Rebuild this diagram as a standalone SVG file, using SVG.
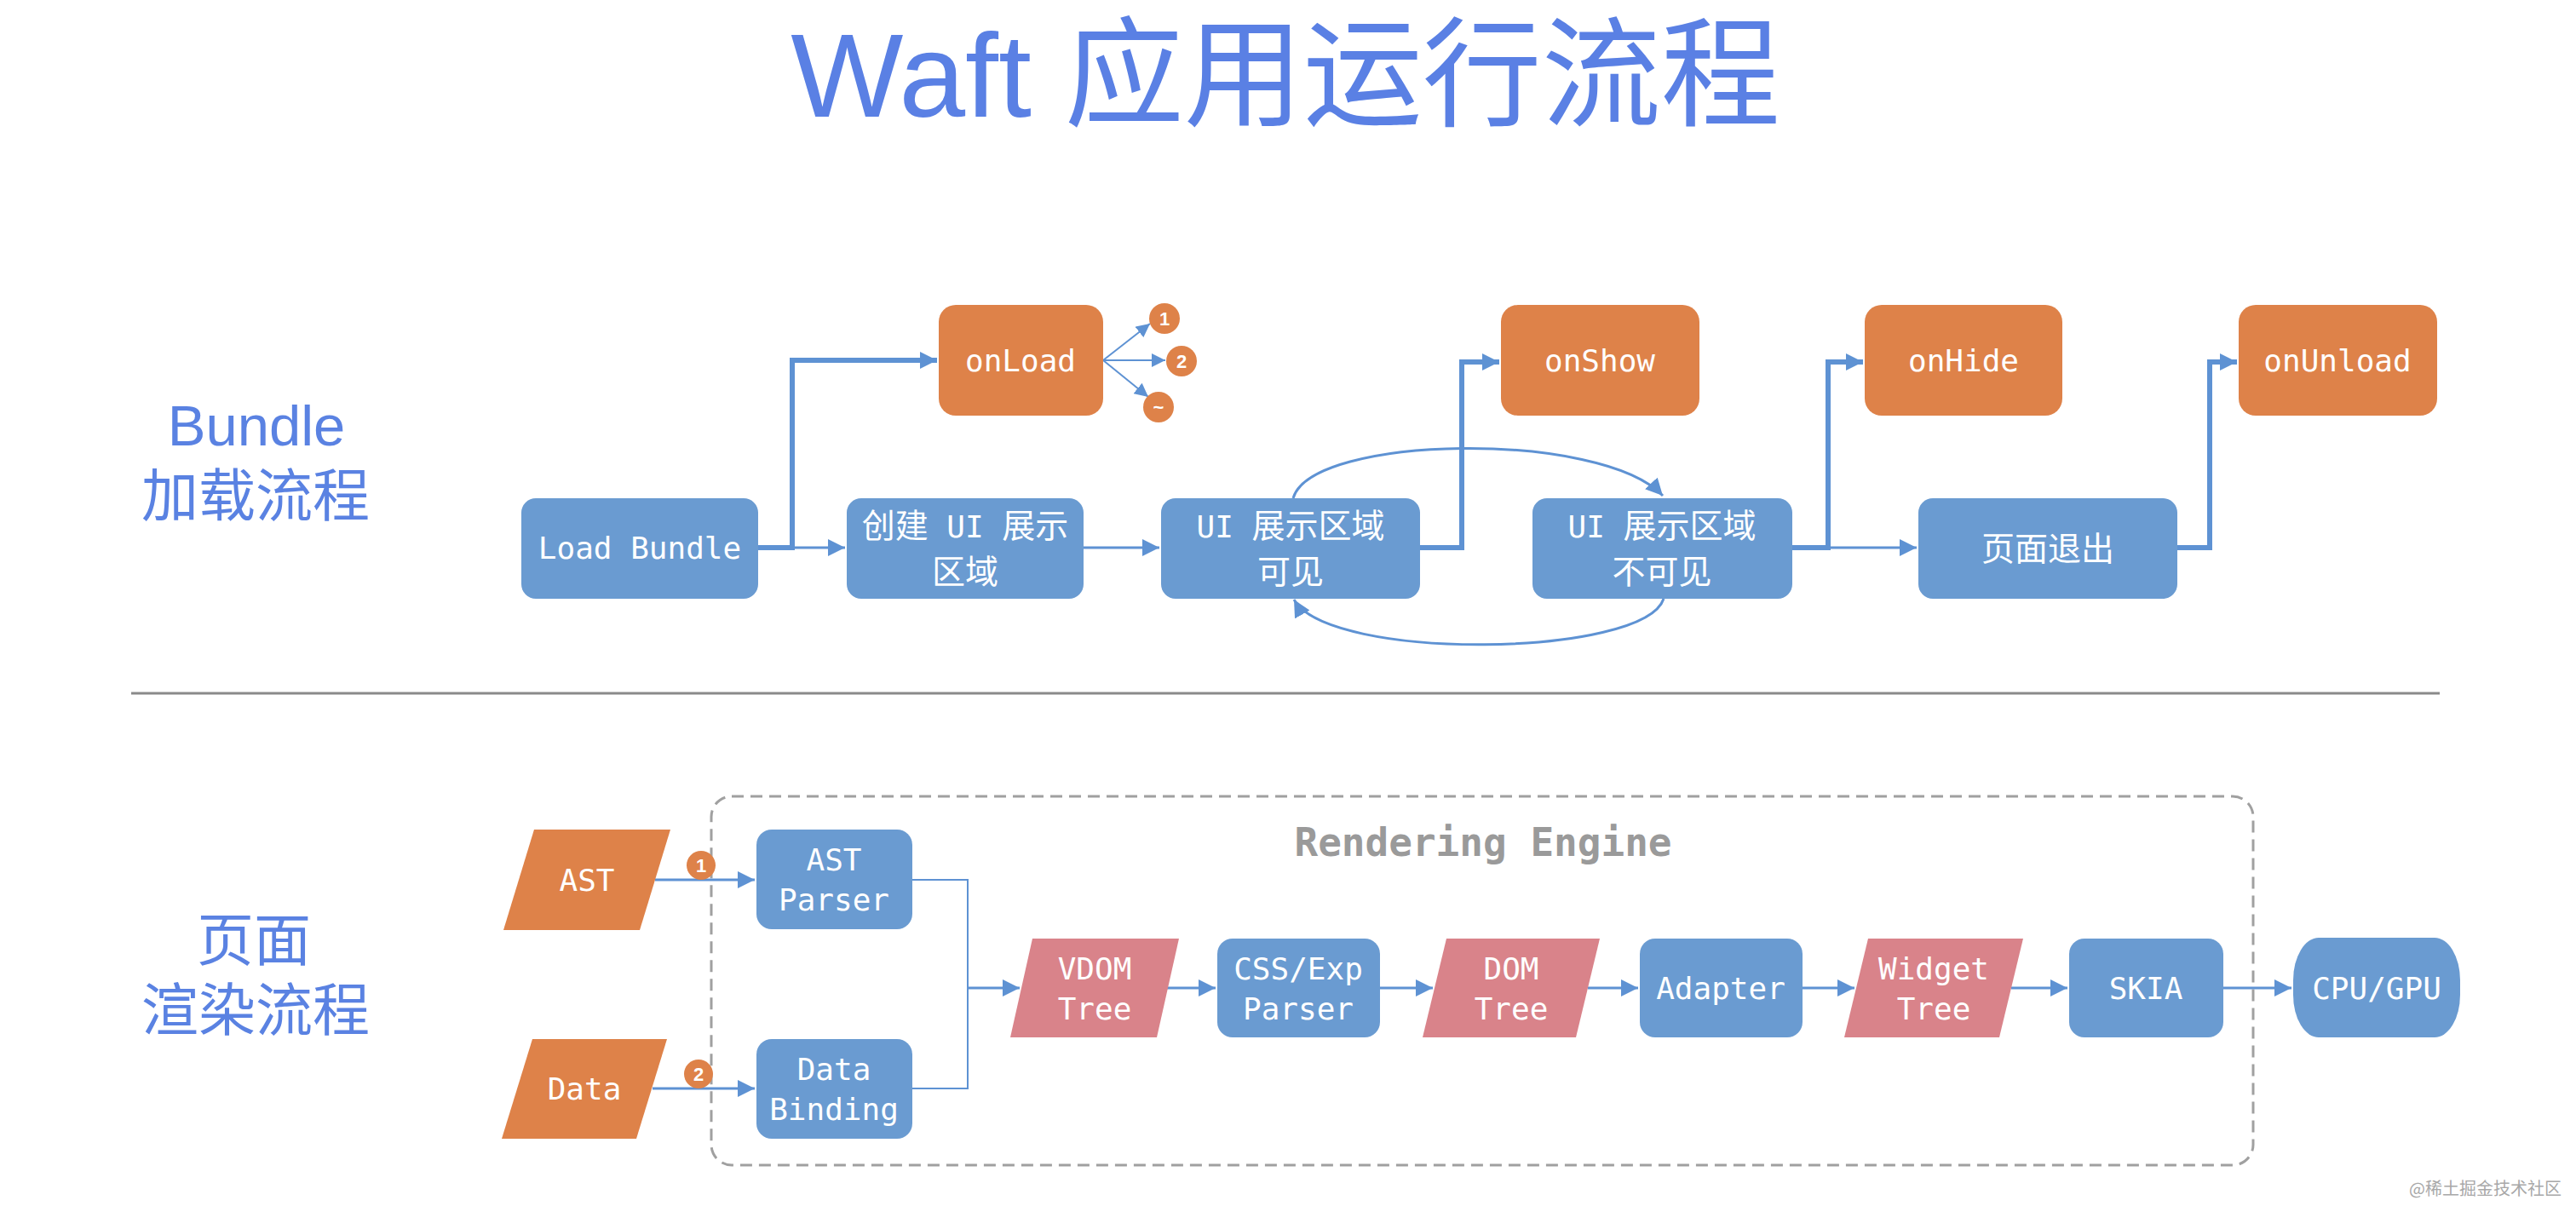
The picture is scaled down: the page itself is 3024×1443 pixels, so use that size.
<svg xmlns="http://www.w3.org/2000/svg" width="3024" height="1443" viewBox="0 0 3024 1443">
<style>
.title{font-family:"Liberation Sans","Noto Sans CJK SC",sans-serif;font-size:140px;fill:#5A80E4;text-anchor:middle}
.sec{font-family:"Liberation Sans","Noto Sans CJK SC",sans-serif;font-size:67px;fill:#5A82E2;text-anchor:middle}
.blue{fill:#6A9BD1}
.orange{fill:#DE8249}
.pink{fill:#D9838A}
.t{font-family:"DejaVu Sans Mono","Noto Sans CJK SC",monospace;font-size:36px;fill:#FFFFFF;text-anchor:middle}
.cjk{font-family:"Noto Sans CJK SC",sans-serif;font-size:39px}
.num{font-family:"Liberation Sans","Noto Sans",sans-serif;font-size:22px;font-weight:bold;fill:#FFFFFF;text-anchor:middle}
.thick{fill:none;stroke:#5E92D3;stroke-width:6}
.thin{fill:none;stroke:#5E92D3;stroke-width:3}
.hair{fill:none;stroke:#5E92D3;stroke-width:2}
</style>
<defs>
<marker id="ah" viewBox="0 0 10 10" refX="10" refY="5" markerWidth="20" markerHeight="20" markerUnits="userSpaceOnUse" orient="auto">
<path d="M0,0 L10,5 L0,10 z" fill="#5E92D3"/>
</marker>
<marker id="ahs" viewBox="0 0 10 10" refX="10" refY="5" markerWidth="16" markerHeight="16" markerUnits="userSpaceOnUse" orient="auto">
<path d="M0,0 L10,5 L0,10 z" fill="#5E92D3"/>
</marker>
</defs>

<rect width="3024" height="1443" fill="#FFFFFF"/>

<text class="title" x="1509" y="137">Waft 应用运行流程</text>

<text class="sec" x="301" y="523">Bundle</text>
<text class="sec" x="300" y="606">加载流程</text>
<text class="sec" x="298" y="1128">页面</text>
<text class="sec" x="300" y="1210">渲染流程</text>

<line x1="154" y1="814" x2="2864" y2="814" stroke="#8A8A8A" stroke-width="3"/>

<g id="rendering-engine">
<rect x="835" y="935" width="1810" height="433" rx="24" fill="none" stroke="#A0A0A0" stroke-width="3" stroke-dasharray="14 8"/>
<text x="1741" y="1005" font-family="DejaVu Sans Mono, monospace" font-size="46" font-weight="bold" fill="#9A9A9A" text-anchor="middle">Rendering Engine</text>
</g>

<g id="connectors">
<path class="thick" d="M890,643 H930 V423 H1100" marker-end="url(#ah)"/>
<path class="thin" d="M930,643 H992" marker-end="url(#ah)"/>
<path class="thin" d="M1272,643 H1361" marker-end="url(#ah)"/>
<path class="hair" d="M1295,423 L1350,380" marker-end="url(#ahs)"/>
<path class="hair" d="M1295,423 H1368" marker-end="url(#ahs)"/>
<path class="hair" d="M1295,423 L1348,466" marker-end="url(#ahs)"/>
<path class="thick" d="M1667,643 H1716 V425 H1760" marker-end="url(#ah)"/>
<path class="thin" d="M1518,585 C1540,510 1880,505 1952,582" marker-end="url(#ah)"/>
<path class="thin" d="M1953,703 C1930,772 1560,777 1519,704" marker-end="url(#ah)"/>
<path class="thick" d="M2104,643 H2146 V425 H2187" marker-end="url(#ah)"/>
<path class="thin" d="M2146,643 H2250" marker-end="url(#ah)"/>
<path class="thick" d="M2556,643 H2594 V425 H2626" marker-end="url(#ah)"/>

<path class="thin" d="M769,1033 H886" marker-end="url(#ah)"/>
<path class="thin" d="M766,1278 H886" marker-end="url(#ah)"/>
<path class="hair" d="M1071,1033 H1136 V1278 H1071"/>
<path class="thin" d="M1136,1160 H1197" marker-end="url(#ah)"/>
<path class="thin" d="M1370,1160 H1427" marker-end="url(#ah)"/>
<path class="thin" d="M1620,1160 H1682" marker-end="url(#ah)"/>
<path class="thin" d="M1864,1160 H1923" marker-end="url(#ah)"/>
<path class="thin" d="M2116,1160 H2177" marker-end="url(#ah)"/>
<path class="thin" d="M2361,1160 H2427" marker-end="url(#ah)"/>
<path class="thin" d="M2610,1160 H2690" marker-end="url(#ah)"/>
</g>

<g id="load-bundle">
<rect class="blue" x="612" y="585" width="278" height="118" rx="17"/>
<text class="t" x="751" y="656">Load Bundle</text>
</g>
<g id="create-ui">
<rect class="blue" x="994" y="585" width="278" height="118" rx="17"/>
<text class="t" x="1133" y="631"><tspan class="cjk">创建</tspan> UI <tspan class="cjk">展示</tspan></text>
<text class="t" x="1133" y="685"><tspan class="cjk">区域</tspan></text>
</g>
<g id="ui-visible">
<rect class="blue" x="1363" y="585" width="304" height="118" rx="17"/>
<text class="t" x="1515" y="631">UI <tspan class="cjk">展示区域</tspan></text>
<text class="t" x="1515" y="685"><tspan class="cjk">可见</tspan></text>
</g>
<g id="ui-invisible">
<rect class="blue" x="1799" y="585" width="305" height="118" rx="17"/>
<text class="t" x="1951" y="631">UI <tspan class="cjk">展示区域</tspan></text>
<text class="t" x="1951" y="685"><tspan class="cjk">不可见</tspan></text>
</g>
<g id="page-exit">
<rect class="blue" x="2252" y="585" width="304" height="118" rx="17"/>
<text class="t" x="2404" y="658"><tspan class="cjk">页面退出</tspan></text>
</g>

<g id="onLoad">
<rect class="orange" x="1102" y="358" width="193" height="130" rx="20"/>
<text class="t" x="1198" y="436">onLoad</text>
</g>
<g id="onLoad-1">
<circle class="orange" cx="1367" cy="374" r="18"/>
<text class="num" x="1367" y="382">1</text>
</g>
<g id="onLoad-2">
<circle class="orange" cx="1387" cy="424" r="18"/>
<text class="num" x="1387" y="432">2</text>
</g>
<g id="onLoad-n">
<circle class="orange" cx="1360" cy="478" r="18"/>
<text class="num" x="1360" y="486">~</text>
</g>
<g id="onShow">
<rect class="orange" x="1762" y="358" width="233" height="130" rx="20"/>
<text class="t" x="1878" y="436">onShow</text>
</g>
<g id="onHide">
<rect class="orange" x="2189" y="358" width="232" height="130" rx="20"/>
<text class="t" x="2305" y="436">onHide</text>
</g>
<g id="onUnload">
<rect class="orange" x="2628" y="358" width="233" height="130" rx="20"/>
<text class="t" x="2744" y="436">onUnload</text>
</g>

<g id="ast">
<polygon class="orange" points="627,974 787,974 751,1092 591,1092"/>
<text class="t" x="689" y="1046">AST</text>
</g>
<g id="badge-1">
<circle class="orange" cx="823" cy="1016" r="17"/>
<text class="num" x="823" y="1024">1</text>
</g>
<g id="data">
<polygon class="orange" points="625,1220 783,1220 747,1337 589,1337"/>
<text class="t" x="686" y="1291">Data</text>
</g>
<g id="badge-2">
<circle class="orange" cx="820" cy="1261" r="17"/>
<text class="num" x="820" y="1269">2</text>
</g>
<g id="ast-parser">
<rect class="blue" x="888" y="974" width="183" height="117" rx="18"/>
<text class="t" x="979" y="1022">AST</text>
<text class="t" x="979" y="1069">Parser</text>
</g>
<g id="data-binding">
<rect class="blue" x="888" y="1220" width="183" height="117" rx="18"/>
<text class="t" x="979" y="1268">Data</text>
<text class="t" x="979" y="1315">Binding</text>
</g>
<g id="vdom-tree">
<polygon class="pink" points="1212,1102 1384,1102 1358,1218 1186,1218"/>
<text class="t" x="1285" y="1150">VDOM</text>
<text class="t" x="1285" y="1197">Tree</text>
</g>
<g id="css-exp-parser">
<rect class="blue" x="1429" y="1102" width="191" height="116" rx="18"/>
<text class="t" x="1524" y="1150">CSS/Exp</text>
<text class="t" x="1524" y="1197">Parser</text>
</g>
<g id="dom-tree">
<polygon class="pink" points="1698,1102 1878,1102 1850,1218 1670,1218"/>
<text class="t" x="1774" y="1150">DOM</text>
<text class="t" x="1774" y="1197">Tree</text>
</g>
<g id="adapter">
<rect class="blue" x="1925" y="1102" width="191" height="116" rx="18"/>
<text class="t" x="2020" y="1173">Adapter</text>
</g>
<g id="widget-tree">
<polygon class="pink" points="2193,1102 2375,1102 2347,1218 2165,1218"/>
<text class="t" x="2270" y="1150">Widget</text>
<text class="t" x="2270" y="1197">Tree</text>
</g>
<g id="skia">
<rect class="blue" x="2429" y="1102" width="181" height="116" rx="18"/>
<text class="t" x="2519" y="1173">SKIA</text>
</g>
<g id="cpu-gpu">
<rect class="blue" x="2692" y="1101" width="196" height="117" rx="30" ry="50"/>
<text class="t" x="2790" y="1173">CPU/GPU</text>
</g>

<text x="2828" y="1403" font-family="Noto Sans CJK SC, sans-serif" font-size="20" fill="#A8A8A8">@稀土掘金技术社区</text>
</svg>
